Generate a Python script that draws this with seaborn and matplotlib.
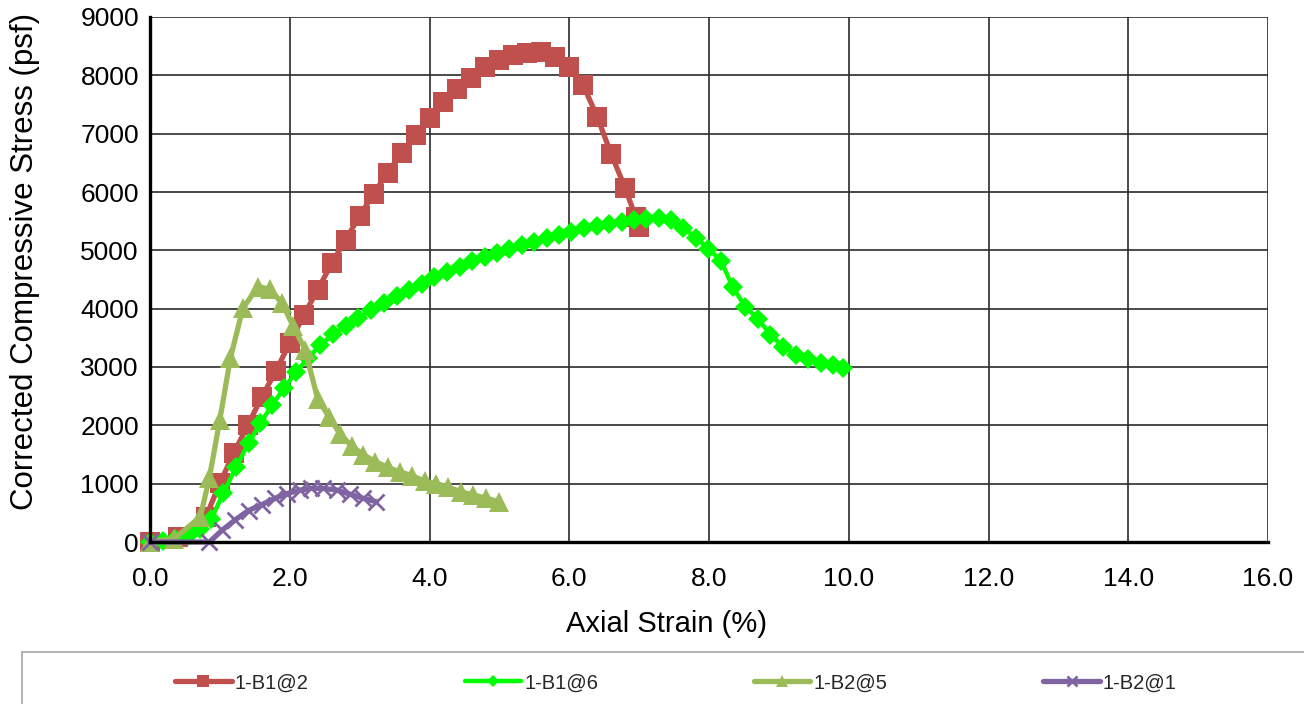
import matplotlib
matplotlib.use("Agg")
import matplotlib.pyplot as plt
from matplotlib.patches import Rectangle
import seaborn as sns
import pandas as pd

# Unconfined compression test results: axial strain (%) vs corrected stress (psf)
b1_2_strain = [0.00, 0.40, 0.80, 1.00, 1.20, 1.40, 1.60, 1.80, 2.00, 2.20, 2.40,
               2.60, 2.80, 3.00, 3.20, 3.40, 3.60, 3.80, 4.00, 4.20, 4.40, 4.60,
               4.80, 5.00, 5.20, 5.40, 5.60, 5.80, 6.00, 6.20, 6.40, 6.60, 6.80,
               6.95, 7.00]
b1_2_stress = [0, 85, 430, 1010, 1525, 2005, 2485, 2930, 3410, 3890, 4320,
               4780, 5180, 5590, 5970, 6330, 6670, 6980, 7270, 7540, 7770, 7950,
               8140, 8260, 8350, 8380, 8400, 8310, 8140, 7830, 7290, 6650, 6070,
               5570, 5400]

b1_6_strain = [0.00, 0.18, 0.36, 0.54, 0.72, 0.88, 1.05, 1.23, 1.41, 1.58, 1.75,
               1.92, 2.09, 2.26, 2.44, 2.62, 2.80, 2.98, 3.16, 3.35, 3.53, 3.71,
               3.89, 4.07, 4.25, 4.43, 4.61, 4.79, 4.96, 5.14, 5.32, 5.50, 5.68,
               5.86, 6.03, 6.21, 6.39, 6.57, 6.75, 6.93, 7.10, 7.28, 7.45, 7.63,
               7.81, 7.99, 8.17, 8.34, 8.52, 8.70, 8.88, 9.06, 9.24, 9.42, 9.60,
               9.78, 9.92]
b1_6_stress = [0, 20, 50, 110, 220, 400, 840, 1280, 1690, 2040, 2350,
               2640, 2910, 3150, 3380, 3560, 3700, 3840, 3970, 4090, 4210, 4320,
               4430, 4540, 4630, 4720, 4820, 4890, 4960, 5020, 5090, 5150, 5210,
               5270, 5320, 5380, 5420, 5460, 5490, 5520, 5530, 5560, 5520, 5380,
               5220, 5030, 4820, 4370, 4030, 3830, 3550, 3350, 3210, 3130, 3070,
               3030, 2980]

b2_5_strain = [0.00, 0.35, 0.72, 0.85, 1.00, 1.15, 1.33, 1.55, 1.72, 1.89, 2.05,
               2.22, 2.40, 2.56, 2.72, 2.89, 3.05, 3.22, 3.40, 3.58, 3.75, 3.93,
               4.10, 4.27, 4.45, 4.62, 4.81, 5.00]
b2_5_stress = [0, 60, 430, 1100, 2100, 3150, 4010, 4380, 4330, 4090, 3700,
               3300, 2450, 2150, 1850, 1640, 1500, 1380, 1280, 1200, 1140, 1040,
               1000, 940, 860, 810, 750, 690]

b2_1_strain = [0.00, 0.85, 1.03, 1.22, 1.41, 1.60, 1.79, 1.96, 2.15, 2.31, 2.48,
               2.67, 2.86, 3.05, 3.24]
b2_1_stress = [0, 0, 200, 380, 540, 640, 750, 830, 890, 920, 920,
               890, 820, 750, 690]

series_names = ["1-B1@2", "1-B1@6", "1-B2@5", "1-B2@1"]

x_ticks = [0, 2, 4, 6, 8, 10, 12, 14, 16]
x_tick_labels = ["0.0", "2.0", "4.0", "6.0", "8.0", "10.0", "12.0", "14.0", "16.0"]
y_ticks = [0, 1000, 2000, 3000, 4000, 5000, 6000, 7000, 8000, 9000]

frames = []
for name, xs, ys in zip(series_names,
                        [b1_2_strain, b1_6_strain, b2_5_strain, b2_1_strain],
                        [b1_2_stress, b1_6_stress, b2_5_stress, b2_1_stress]):
    frames.append(pd.DataFrame({"strain": xs, "stress": ys, "sample": name}))
data = pd.concat(frames, ignore_index=True)

sns.set_theme(style="white")
plt.rcParams["font.family"] = ["Liberation Sans", "DejaVu Sans"]

W, H = 1304, 704
fig = plt.figure(figsize=(W / 100, H / 100), dpi=100)
ax_left, ax_right, ax_top, ax_bottom = 150, 1268, 17, 542
ax = fig.add_axes([ax_left / W, 1 - ax_bottom / H,
                   (ax_right - ax_left) / W, (ax_bottom - ax_top) / H])

styles = {
    "1-B1@2": dict(color="#C0504D", marker="s", markersize=14.5, linewidth=3.8,
                   markeredgewidth=0),
    "1-B1@6": dict(color="#00FF00", marker="D", markersize=10, linewidth=3.2,
                   markeredgewidth=0),
    "1-B2@5": dict(color="#9BBB59", marker="^", markersize=14.5, linewidth=3.8,
                   markeredgewidth=0),
    "1-B2@1": dict(color="#8064A2", marker="x", markersize=12, linewidth=3.8,
                   markeredgewidth=2, markeredgecolor="#8064A2"),
}

for i, name in enumerate(series_names):
    sub = data[data["sample"] == name]
    st = styles[name]
    sns.lineplot(data=sub, x="strain", y="stress", ax=ax, sort=False,
                 estimator=None, label=name, zorder=3 + i, clip_on=False,
                 linestyle="-", dashes=False, **st)

ax.set_xlim(0, 16)
ax.set_ylim(0, 9000)
ax.set_xticks(x_ticks)
ax.set_xticklabels(x_tick_labels)
ax.set_yticks(y_ticks)
ax.grid(True, color="#2b2b2b", linewidth=1.2)
ax.set_axisbelow(True)

for side in ["top", "right"]:
    ax.spines[side].set_visible(False)
for side in ["left", "bottom"]:
    ax.spines[side].set_color("black")
    ax.spines[side].set_linewidth(2.4)
    ax.spines[side].set_zorder(10)

ax.tick_params(axis="both", which="major", direction="out", length=6,
               width=1.2, color="black", labelsize=19, labelcolor="black")
ax.tick_params(axis="x", pad=12)
ax.tick_params(axis="y", pad=2)
ax.set_xlabel("Axial Strain (%)", fontsize=21, color="black")
ax.set_ylabel("Corrected Compressive Stress (psf)", fontsize=22.5, color="black")

# Axis titles sit slightly off-centre
span_x = ax_right - ax_left
span_y = ax_bottom - ax_top
ax.xaxis.set_label_coords((667 - ax_left) / span_x, -(610 - ax_bottom) / span_y)
ax.yaxis.set_label_coords(-(ax_left - 40) / span_x, (ax_bottom - 261) / span_y)

# Legend box along the bottom edge
handles, labels = ax.get_legend_handles_labels()
ax.get_legend().remove()
fig.patches.append(Rectangle((22 / W, -0.05), 1.1, (704 - 652) / H + 0.05,
                             transform=fig.transFigure, facecolor="white",
                             edgecolor="#A6A6A6", linewidth=1.2, zorder=0))
fig.legend(handles, labels, loc="center", bbox_to_anchor=(676 / W, 1 - 683 / H),
           ncol=4, frameon=False, fontsize=14.5, handlelength=2.8,
           columnspacing=7.75, handletextpad=0.15, markerscale=0.6)

fig.savefig("out.png", dpi=100)
